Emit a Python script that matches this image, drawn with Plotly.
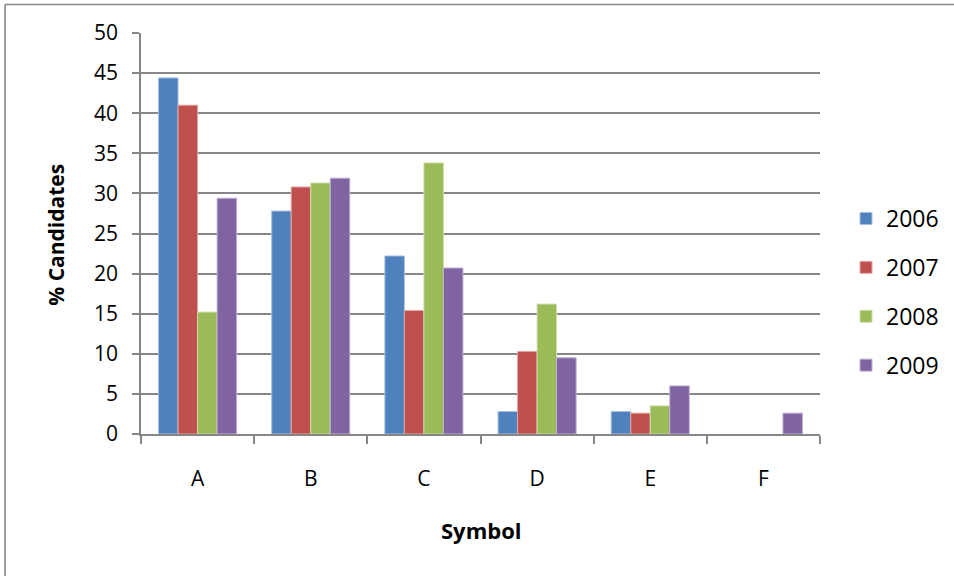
import plotly.graph_objects as go

# Share of candidates per symbol, by year
symbols = ["A", "B", "C", "D", "E", "F"]
years = ["2006", "2007", "2008", "2009"]
pct_2006 = [44.4, 27.8, 22.2, 2.8, 2.8, None]
pct_2007 = [41.0, 30.8, 15.4, 10.3, 2.6, None]
pct_2008 = [15.2, 31.3, 33.8, 16.2, 3.5, None]
pct_2009 = [29.4, 31.9, 20.7, 9.5, 6.0, 2.6]
series = [pct_2006, pct_2007, pct_2008, pct_2009]
colors = ["#4F81BD", "#C0504D", "#9BBB59", "#8064A2"]
edges = ["#A7C0DE", "#DFA8A6", "#CDDDAC", "#BFB1D0"]

W, H = 954, 576
L, R, T, B = 141, 134, 33, 141.5
PW, PH = W - L - R, H - T - B

def px_x(p):
    return (p - L) / PW

def px_y(p):
    return 1 - (p - T) / PH

GRID = "#868686"
FONT = "Open Sans, Lato, sans-serif"

fig = go.Figure()
for name, vals, c, e in zip(years, series, colors, edges):
    fig.add_trace(go.Bar(
        x=symbols, y=vals, name=name, legendgroup=name,
        marker=dict(color=c, line=dict(color=e, width=1)),
    ))

fig.update_layout(
    width=W, height=H,
    margin=dict(l=L, r=R, t=T, b=B, pad=0),
    paper_bgcolor="white", plot_bgcolor="white",
    barmode="group", bargap=0.31, bargroupgap=0,
    font=dict(family=FONT, color="black"),
    showlegend=True,
    legend=dict(
        xref="container", yref="container",
        x=(866 - 20) / W, y=1 - 197 / H,
        xanchor="left", yanchor="top",
        font=dict(size=23, family=FONT),
        tracegroupgap=16, bgcolor="rgba(0,0,0,0)",
    ),
    xaxis=dict(
        type="category", tickson="boundaries",
        ticks="outside", ticklen=8, tickwidth=1.5, tickcolor=GRID,
        showline=True, linecolor=GRID, linewidth=1.5,
        showgrid=False, tickfont=dict(size=21),
        ticklabelstandoff=25,
    ),
    yaxis=dict(
        range=[0, 50], dtick=5,
        ticks="outside", ticklen=7, tickwidth=1.5, tickcolor=GRID,
        showline=True, linecolor=GRID, linewidth=1.5,
        showgrid=True, gridcolor=GRID, gridwidth=1.5,
        zeroline=False, tickfont=dict(size=21),
        ticklabelstandoff=10,
    ),
    annotations=[
        dict(text="<b>% Candidates</b>", textangle=-90, x=px_x(56), y=px_y(235),
             xref="paper", yref="paper", showarrow=False,
             font=dict(size=21, family=FONT), xanchor="center", yanchor="middle"),
        dict(text="<b>Symbol</b>", x=px_x(481), y=px_y(531),
             xref="paper", yref="paper", showarrow=False,
             font=dict(size=22, family=FONT), xanchor="center", yanchor="middle"),
    ],
    shapes=[
        dict(type="line", xref="paper", yref="paper",
             x0=px_x(5), x1=px_x(W + 5), y0=px_y(4.5), y1=px_y(4.5),
             line=dict(color=GRID, width=1.6)),
        dict(type="line", xref="paper", yref="paper",
             x0=px_x(5), x1=px_x(5), y0=px_y(4.5), y1=px_y(H + 5),
             line=dict(color=GRID, width=1.6)),
    ],
)

fig.write_html("out.html")
